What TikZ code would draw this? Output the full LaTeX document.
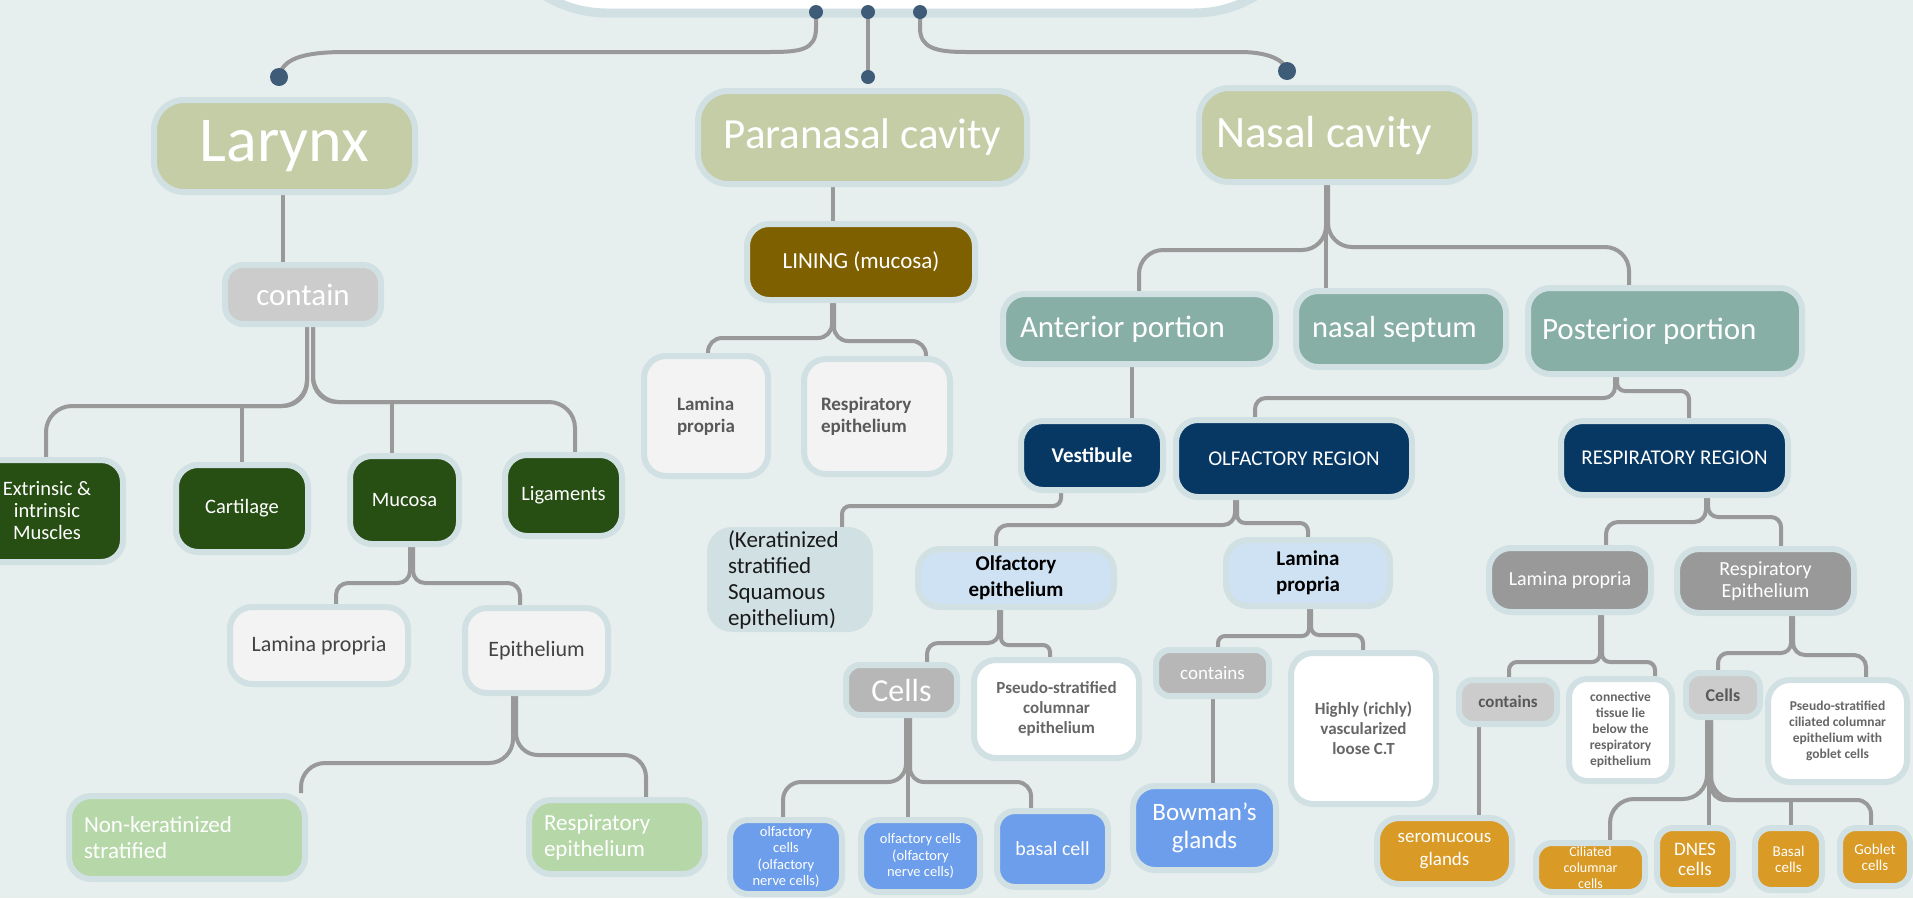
\documentclass[tikz,border=0pt]{standalone}
\usepackage{fontspec}
\setmainfont{Carlito}
\usetikzlibrary{calc}
\pgfdeclarelayer{bgl}
\pgfdeclarelayer{lines}
\pgfsetlayers{bgl,lines,main}
\definecolor{bgc}{HTML}{E6EFEE}
\definecolor{bord}{HTML}{D0E0E3}
\definecolor{lin}{HTML}{999999}
\definecolor{dotc}{HTML}{3E5B77}
\definecolor{olive}{HTML}{C5CDA6}
\definecolor{cgray}{HTML}{CCCCCC}
\definecolor{dgreen}{HTML}{274E13}
\definecolor{lgray}{HTML}{F3F3F3}
\definecolor{dtext}{HTML}{434343}
\definecolor{lgreen}{HTML}{B6D7A8}
\definecolor{brown}{HTML}{7F6000}
\definecolor{ptext}{HTML}{595959}
\definecolor{teal}{HTML}{87AFA5}
\definecolor{navy}{HTML}{073763}
\definecolor{ktext}{HTML}{1A1A1A}
\definecolor{lblue}{HTML}{CFE2F3}
\definecolor{mgray}{HTML}{B7B7B7}
\definecolor{wtext}{HTML}{666666}
\definecolor{cblue}{HTML}{6D9EEB}
\definecolor{gray2}{HTML}{999999}
\definecolor{ctext}{HTML}{595959}
\definecolor{orng}{HTML}{D99A26}
\newcommand\myfs[2]{\fontsize{#1}{#2}\selectfont}
\newcommand\myconn[4][20pt]{\path #2 coordinate (ca) #4 coordinate (cb);\draw[conn,rounded corners=#1] (ca) -- (ca |- 0,#3) -- (cb |- 0,#3) -- (cb);}
\newcommand\myconnT[3]{\path #1 coordinate (ca) #3 coordinate (cb);\draw[conn,rounded corners=24pt] (ca) -- (ca |- 0,#2) -- (cb |- 0,#2);\draw[conn] (cb |- 0,#2) -- (cb);}
\begin{document}
\begin{tikzpicture}[x=1pt,y=-1pt,
 box/.style={draw=bord, line width=6pt, rounded corners=22pt, inner sep=0pt, align=center, text=white},
 lvl1/.style={fill=olive, rounded corners=30pt},
 conn/.style={draw=lin, line width=4pt},
 dot/.style={circle, fill=dotc, draw=none, inner sep=0pt, minimum size=14pt}]
\useasboundingbox (0,0) rectangle (1913,898);
\clip (0,0) rectangle (1913,898);
\begin{pgfonlayer}{bgl}
\fill[bgc] (0,0) rectangle (1913,898);
\end{pgfonlayer}
% root
\node[box,fill=white,minimum width=827pt,minimum height=300pt,rounded corners=120pt,line width=9pt] (root) at (900.5,-137) {};
\node[dot] (d1) at (816,12) {};
\node[dot] (d2) at (868,12) {};
\node[dot] (d3) at (920,12) {};
\node[dot,minimum size=18pt] (dL) at (279,77) {};
\node[dot] (dM) at (868,77) {};
\node[dot,minimum size=18pt] (dR) at (1287,71) {};
% level 1
\node[box,lvl1,minimum width=261pt,minimum height=92pt,font=\myfs{64}{66}] (larynx) at (284.5,146) {Larynx};
\node[box,lvl1,minimum width=329pt,minimum height=93pt,font=\myfs{43}{45}] (para) at (862.5,137.5) {Paranasal cavity};
\node[box,lvl1,minimum width=276pt,minimum height=94pt,font=\myfs{45}{47}] (nasal) at (1337,135) {\makebox[242pt][l]{Nasal cavity}};
% larynx branch
\node[box,fill=cgray,minimum width=156pt,minimum height=59pt,rounded corners=18pt,font=\myfs{31}{33}] (contain) at (303,294.5) {contain};
\node[box,fill=dgreen,minimum width=152pt,minimum height=102pt,font=\myfs{20.5}{22}] (extr) at (47,511) {Extrinsic \&\\intrinsic\\Muscles};
\node[box,fill=dgreen,minimum width=132pt,minimum height=87pt,font=\myfs{20.5}{22}] (cart) at (242,508.5) {Cartilage};
\node[box,fill=dgreen,minimum width=109pt,minimum height=88pt,font=\myfs{20.5}{22}] (muc) at (404.5,500) {Mucosa};
\node[box,fill=dgreen,minimum width=117pt,minimum height=81pt,font=\myfs{20.5}{22}] (lig) at (563.5,495.5) {Ligaments};
\node[box,fill=lgray,text=dtext,minimum width=178pt,minimum height=77pt,font=\myfs{22}{24}] (lpL) at (319,645.5) {Lamina propria};
\node[box,fill=lgray,text=dtext,minimum width=143pt,minimum height=85pt,font=\myfs{22}{24}] (epiL) at (536.5,650.5) {Epithelium};
\node[box,fill=lgreen,minimum width=236pt,minimum height=83pt,text width=206pt,align=left,font=\myfs{23}{26}] (nonk) at (187,837.5) {Non-keratinized\\stratified};
\node[box,fill=lgreen,minimum width=176pt,minimum height=74pt,text width=146pt,align=left,font=\myfs{23}{26}] (respL) at (617,837) {Respiratory\\epithelium};
% paranasal branch
\node[box,fill=brown,minimum width=228pt,minimum height=76pt,font=\myfs{23}{25}] (lining) at (861,262) {LINING (mucosa)};
\node[box,fill=lgray,text=ptext,minimum width=124pt,minimum height=120pt,align=left,font=\bfseries\myfs{19}{22}] (lpP) at (706,416) {Lamina\\propria};
\node[box,fill=lgray,text=ptext,minimum width=146pt,minimum height=115pt,text width=112pt,align=left,font=\bfseries\myfs{19}{22}] (respP) at (877,416.5) {Respiratory\\epithelium};
% nasal branch
\node[box,fill=teal,minimum width=273pt,minimum height=70pt,font=\myfs{31}{33}] (ant) at (1139.5,329) {\makebox[239pt][l]{Anterior portion}};
\node[box,fill=teal,minimum width=210pt,minimum height=76pt,font=\myfs{30.5}{32}] (sept) at (1401,329) {\makebox[178pt][l]{nasal septum}};
\node[box,fill=teal,minimum width=274pt,minimum height=86pt,font=\myfs{31}{33}] (post) at (1665,331) {\makebox[246pt][l]{Posterior portion}};
\node[box,fill=navy,minimum width=142pt,minimum height=69pt,font=\bfseries\myfs{21}{23}] (vest) at (1092,455.5) {Vestibule};
\node[box,fill=navy,minimum width=236pt,minimum height=77pt,font=\myfs{21}{23}] (olfR) at (1294,458.5) {OLFACTORY REGION};
\node[box,fill=navy,minimum width=227pt,minimum height=74pt,font=\myfs{21}{23}] (respR) at (1674.5,458) {RESPIRATORY REGION};
\node[box,fill=bord,text=ktext,minimum width=160pt,minimum height=99pt,text width=124pt,align=left,font=\myfs{23}{26}] (kerat) at (790,579.5) {(Keratinized\\stratified\\Squamous\\epithelium)};
\node[box,fill=lblue,text=black,minimum width=196pt,minimum height=58pt,font=\bfseries\myfs{21}{26}] (olfE) at (1016,578) {Olfactory\\epithelium};
\node[box,fill=lblue,text=black,minimum width=164pt,minimum height=66pt,font=\bfseries\myfs{21}{26}] (lpO) at (1308,573) {Lamina\\propria};
\node[box,fill=mgray,minimum width=111pt,minimum height=50pt,rounded corners=14pt,font=\myfs{32}{34}] (cellsO) at (901.5,690) {Cells};
\node[box,fill=white,text=wtext,minimum width=165pt,minimum height=98pt,font=\bfseries\myfs{17}{20}] (pseudoO) at (1056.5,709) {Pseudo-stratified\\columnar\\epithelium};
\node[box,fill=cblue,minimum width=112pt,minimum height=74pt,rounded corners=18pt,font=\myfs{14.5}{16.5}] (oc1) at (786,857) {olfactory\\cells\\(olfactory\\nerve cells)};
\node[box,fill=cblue,minimum width=119pt,minimum height=72pt,rounded corners=18pt,font=\myfs{14.5}{16.5}] (oc2) at (920.5,856) {olfactory cells\\(olfactory\\nerve cells)};
\node[box,fill=cblue,minimum width=111pt,minimum height=76pt,rounded corners=18pt,font=\myfs{20}{22}] (basal) at (1052.5,849) {basal cell};
\node[box,fill=mgray,minimum width=113pt,minimum height=46pt,rounded corners=14pt,font=\myfs{19}{21}] (containsO) at (1212.5,673) {contains};
\node[box,fill=cblue,minimum width=143pt,minimum height=84pt,font=\myfs{25}{28}] (bowman) at (1204.5,828) {Bowman's\\glands};
\node[box,fill=white,text=wtext,minimum width=145pt,minimum height=151pt,font=\bfseries\myfs{17}{20}] (highly) at (1363.5,728.5) {Highly (richly)\\vascularized\\loose C.T};
\node[box,fill=gray2,minimum width=162pt,minimum height=64pt,font=\myfs{20}{22}] (lpR) at (1570,580) {Lamina propria};
\node[box,fill=gray2,minimum width=177pt,minimum height=64pt,font=\myfs{20}{22}] (epR) at (1765.5,581) {Respiratory\\Epithelium};
\node[box,fill=cgray,text=ctext,minimum width=98pt,minimum height=44pt,rounded corners=14pt,font=\bfseries\myfs{17}{19}] (containsR) at (1508,702) {contains};
\node[box,fill=white,text=wtext,minimum width=103pt,minimum height=102pt,rounded corners=18pt,font=\bfseries\myfs{13.5}{16}] (connT) at (1620.5,730) {connective\\tissue lie\\below the\\respiratory\\epithelium};
\node[box,fill=cgray,text=ctext,minimum width=74pt,minimum height=44pt,rounded corners=14pt,font=\bfseries\myfs{18}{20}] (cellsR) at (1723,695) {Cells};
\node[box,fill=white,text=wtext,minimum width=139pt,minimum height=102pt,font=\bfseries\myfs{13.5}{16}] (pseudoR) at (1837.5,731) {Pseudo-stratified\\ciliated columnar\\epithelium with\\goblet cells};
\node[box,fill=orng,minimum width=135pt,minimum height=66pt,font=\myfs{19}{22}] (sero) at (1444.5,851) {seromucous\\glands};
\node[box,fill=orng,minimum width=109pt,minimum height=49pt,rounded corners=16pt,font=\myfs{14}{16}] (cilia) at (1590.5,867.5) {Ciliated\\columnar\\cells};
\node[box,fill=orng,minimum width=76pt,minimum height=62pt,rounded corners=16pt,font=\myfs{19}{20}] (dnes) at (1695,859) {DNES\\cells};
\node[box,fill=orng,minimum width=67pt,minimum height=62pt,rounded corners=16pt,font=\myfs{15}{16}] (basalR) at (1788.5,859) {Basal\\cells};
\node[box,fill=orng,minimum width=70pt,minimum height=58pt,rounded corners=16pt,font=\myfs{15}{16}] (goblet) at (1875,857) {Goblet\\cells};
% connectors
\begin{pgfonlayer}{lines}
\draw[conn] (d1.center) -- (816,28) .. controls (816,50) and (800,52) .. (770,52) -- (345,52) .. controls (300,52) and (282,60) .. (dL.center);
\draw[conn] (d2.center) -- (dM.center);
\draw[conn] (d3.center) -- (920,28) .. controls (920,48) and (936,52) .. (966,52) -- (1240,52) .. controls (1268,52) and (1285,60) .. (dR.center);
\draw[conn] ([xshift=-1.5pt]larynx.south) -- ([xshift=-20pt]contain.north);
\myconn[26pt]{([xshift=4pt]contain.south)}{406}{([xshift=-1pt]extr.north)}
\myconnT{([xshift=4pt]contain.south)}{406}{(cart.north)}
\myconnT{([xshift=10pt]contain.south)}{402}{([xshift=-12.5pt]muc.north)}
\myconn[26pt]{([xshift=10pt]contain.south)}{402}{([xshift=11.5pt]lig.north)}
\myconn[12pt]{([xshift=5.5pt]muc.south)}{583}{([xshift=17pt]lpL.north)}
\myconn[12pt]{([xshift=8.5pt]muc.south)}{583}{([xshift=-16.5pt]epiL.north)}
\myconn[24pt]{([xshift=-23.5pt]epiL.south)}{763}{([xshift=114pt]nonk.north)}
\myconn[22pt]{([xshift=-20.5pt]epiL.south)}{755}{([xshift=29pt]respL.north)}
\draw[conn] ([xshift=-29.5pt]para.south) -- ([xshift=-28pt]lining.north);
\myconn[14pt]{([xshift=-29pt]lining.south)}{338}{([xshift=2pt]lpP.north)}
\myconn[14pt]{([xshift=-27pt]lining.south)}{341}{([xshift=49pt]respP.north)}
\myconn[24pt]{([xshift=-11pt]nasal.south)}{250}{([xshift=-0.5pt]ant.north)}
\draw[conn] ([xshift=-11pt]nasal.south) -- ([xshift=-75pt]sept.north);
\myconn[24pt]{([xshift=-9pt]nasal.south)}{247}{([xshift=-36pt]post.north)}
\draw[conn] ([xshift=-7.5pt]ant.south) -- ([xshift=40pt]vest.north);
\myconn[11pt]{([xshift=-50pt]post.south)}{398}{([xshift=-39pt]olfR.north)}
\myconn[8pt]{([xshift=-48pt]post.south)}{391}{([xshift=14.5pt]respR.north)}
\myconn[8pt]{([xshift=-31pt]vest.south)}{506}{([xshift=52pt]kerat.north)}
\myconn[12pt]{([xshift=-59pt]olfR.south)}{525}{([xshift=-20pt]olfE.north)}
\myconn[8pt]{([xshift=-57pt]olfR.south)}{523}{(lpO.north)}
\myconn[11pt]{([xshift=-17pt]olfE.south)}{643}{([xshift=25.5pt]cellsO.north)}
\myconn[7pt]{([xshift=-15pt]olfE.south)}{645}{([xshift=-6.5pt]pseudoO.north)}
\myconn[18pt]{([xshift=4.5pt]cellsO.south)}{782}{([xshift=-3pt]oc1.north)}
\draw[conn] ([xshift=6.5pt]cellsO.south) -- ([xshift=-12.5pt]oc2.north);
\myconn[14pt]{([xshift=8.5pt]cellsO.south)}{782}{([xshift=-21.5pt]basal.north)}
\myconn[7pt]{([xshift=1pt]lpO.south)}{636}{([xshift=5.5pt]containsO.north)}
\myconn[8pt]{([xshift=3pt]lpO.south)}{635}{([xshift=-0.5pt]highly.north)}
\draw[conn] ([xshift=0.5pt]containsO.south) -- ([xshift=8.5pt]bowman.north);
\myconn[12pt]{([xshift=31.5pt]respR.south)}{522}{([xshift=36pt]lpR.north)}
\myconn[10pt]{([xshift=33.5pt]respR.south)}{517}{([xshift=15.5pt]epR.north)}
\myconn[8pt]{([xshift=30pt]lpR.south)}{662}{([xshift=1pt]containsR.north)}
\myconn[8pt]{([xshift=32pt]lpR.south)}{662}{([xshift=34.5pt]connT.north)}
\myconn[10pt]{([xshift=25.5pt]epR.south)}{653}{([xshift=-5pt]cellsR.north)}
\myconn[12pt]{([xshift=27.5pt]epR.south)}{655}{([xshift=28.5pt]pseudoR.north)}
\draw[conn] ([xshift=-29pt]containsR.south) -- ([xshift=34.5pt]sero.north);
\myconn[24pt]{([xshift=-16pt]cellsR.south)}{799}{([xshift=19.5pt]cilia.north)}
\draw[conn] ([xshift=-14pt]cellsR.south) -- ([xshift=14pt]dnes.north);
\myconnT{([xshift=-12pt]cellsR.south)}{800}{([xshift=2.5pt]basalR.north)}
\myconn[14pt]{([xshift=-12pt]cellsR.south)}{800}{([xshift=-4pt]goblet.north)}
\end{pgfonlayer}
\end{tikzpicture}
\end{document}
